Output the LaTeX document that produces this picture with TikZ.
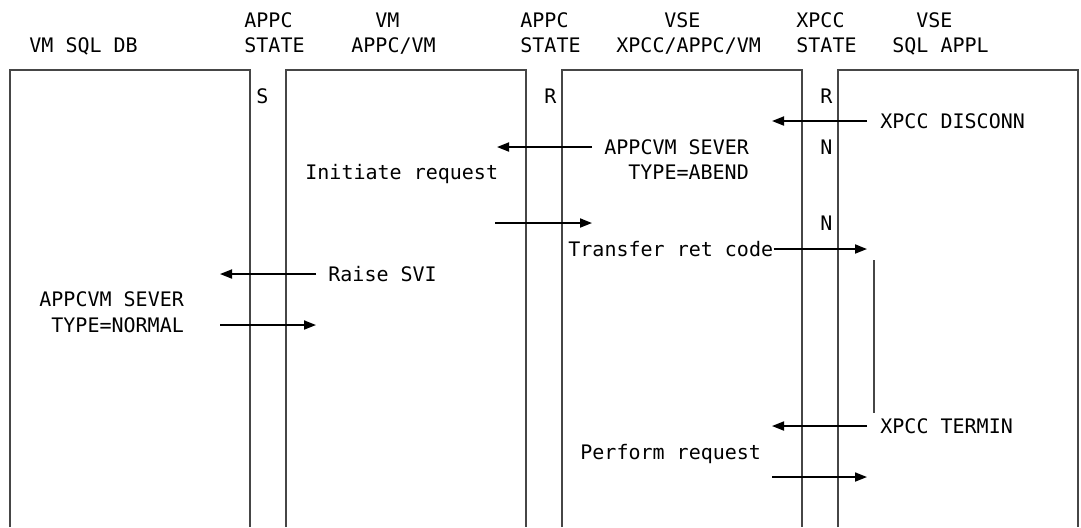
\documentclass[tikz,border=0pt]{standalone}
\usepackage{fontspec}
\setmonofont{DejaVu Sans Mono}
\usetikzlibrary{arrows.meta}
\usepackage{xcolor}
\definecolor{lanegray}{RGB}{70,70,70}

\begin{document}
\begin{tikzpicture}[
  x=0.5pt, y=-0.5pt,
  every node/.style={font=\ttfamily\fontsize{10}{12}\selectfont, inner sep=0pt, anchor=west, text height=7.3pt, text depth=0pt},
  lane/.style={draw=lanegray, line width=1pt},
  arrow/.style={-{Triangle[length=6pt,width=4.5pt]}, line width=0.9pt, black}
]
  \useasboundingbox (0,0) rectangle (1081,527);

  % Lanes
  \foreach \lx in {10,286,562,838}
    \draw [lane] (\lx,527) |- (\lx+240,70) -- (\lx+240,527);

  % Headings
  \node (sqldb) at (29,45) {VM SQL DB};
  \node (stateOneA) at (244,20) {APPC};
  \node (stateOneB) at (244,45) {STATE};
  \node (appcvmA) at (375,20) {VM};
  \node (appcvmB) at (351,45) {APPC/VM};
  \node (stateTwoA) at (520,20) {APPC};
  \node (stateTwoB) at (520,45) {STATE};
  \node (vseA) at (664,20) {VSE};
  \node (vseB) at (616,45) {XPCC/APPC/VM};
  \node (stateThreeA) at (796,20) {XPCC};
  \node (stateThreeB) at (796,45) {STATE};
  \node (applA) at (916,20) {VSE};
  \node (applB) at (892,45) {SQL APPL};

  % States
  \node (sOne) at (256,96) {S};
  \node (rTwo) at (544,96) {R};
  \node (rThree) at (820,96) {R};
  \node (nThreeA) at (820,147) {N};
  \node (nThreeB) at (820,223) {N};

  % Messages
  \node (disconn) at (880,121) {XPCC DISCONN};
  \node (abendA) at (604,147) {APPCVM SEVER};
  \node (abendB) at (628,172) {TYPE=ABEND};
  \node (initiate) at (305,172) {Initiate request};
  \node (transfer) at (568,249) {Transfer ret code};
  \node (raise) at (328,274) {Raise SVI};
  \node (normalA) at (39,299) {APPCVM SEVER};
  \node (normalB) at (51,325) {TYPE=NORMAL};
  \node (termin) at (880,426) {XPCC TERMIN};
  \node (perform) at (580,452) {Perform request};

  % Arrow ends
  \coordinate (disconnTip) at (772,121);
  \coordinate (abendTip) at (497,147);
  \coordinate (initFrom) at (495,223);
  \coordinate (initTip) at (592,223);
  \coordinate (transferTip) at (867,249);
  \coordinate (raiseTip) at (220,274);
  \coordinate (normalFrom) at (220,325);
  \coordinate (normalTip) at (316,325);
  \coordinate (terminTip) at (772,426);
  \coordinate (performFrom) at (772,477);
  \coordinate (performTip) at (867,477);
  \coordinate (waitTop) at (874,260);
  \coordinate (waitBot) at (874,413);

  % Paths
  \draw [arrow] ([xshift=-6.5pt]disconn.west) -- (disconnTip);
  \draw [arrow] ([xshift=-6pt]abendA.west) -- (abendTip);
  \draw [arrow] (initFrom) -- (initTip);
  \draw [arrow] (transfer.east) -- (transferTip);
  \draw [arrow] ([xshift=-6pt]raise.west) -- (raiseTip);
  \draw [arrow] (normalFrom) -- (normalTip);
  \draw [arrow] ([xshift=-6.5pt]termin.west) -- (terminTip);
  \draw [arrow] (performFrom) -- (performTip);
  \draw [lane] (waitTop) -- (waitBot);
\end{tikzpicture}
\end{document}
